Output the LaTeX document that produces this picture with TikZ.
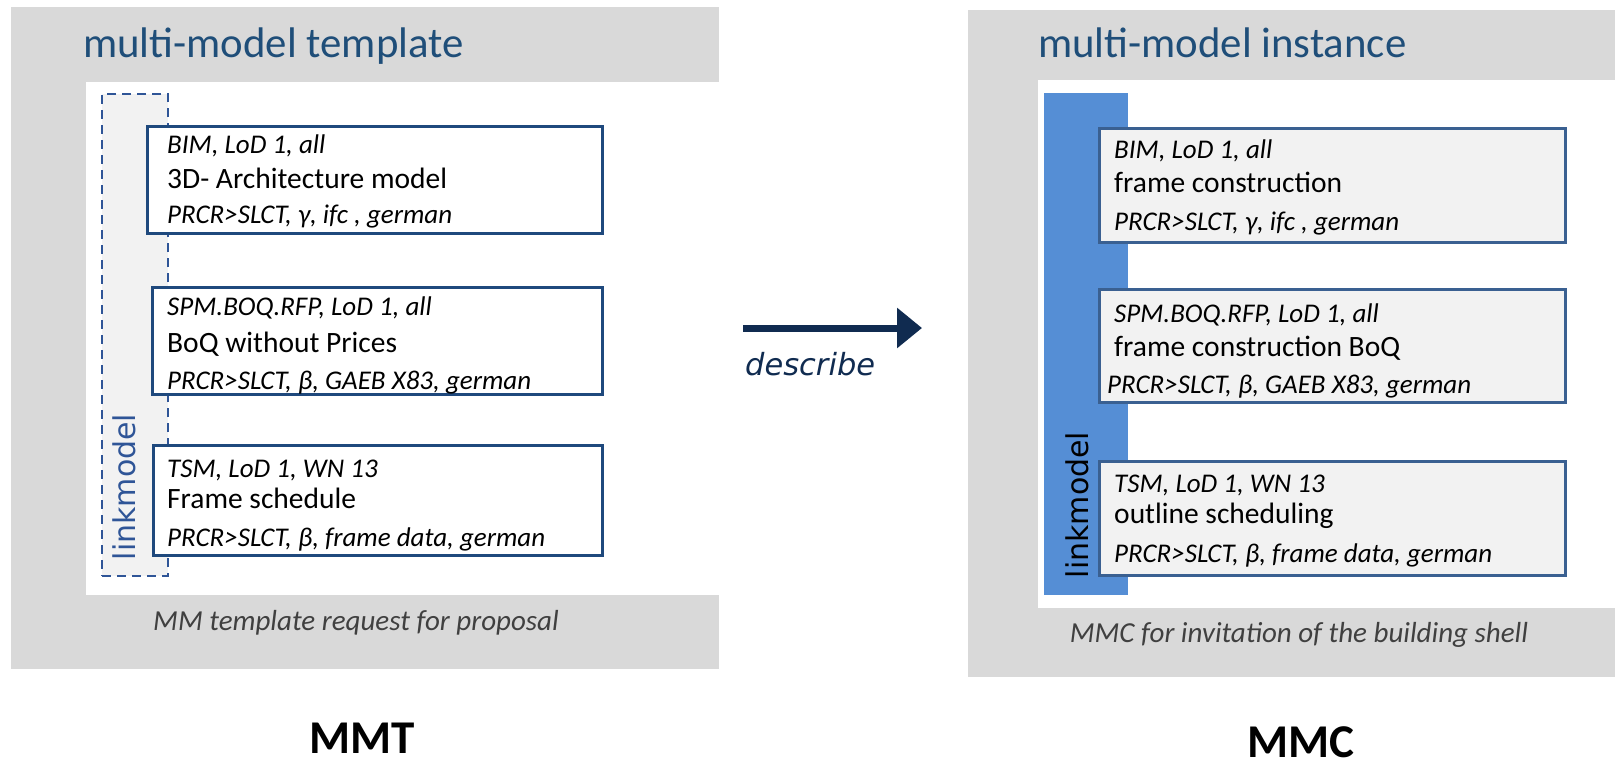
\documentclass[tikz,border=0pt]{standalone}
\usepackage{fontspec}
\setmainfont{Carlito}
\newfontfamily\verdanalike{DejaVu Sans}
\usetikzlibrary{arrows.meta}
\definecolor{panelgray}{RGB}{217,217,217}
\definecolor{titleblue}{RGB}{31,78,121}
\definecolor{boxblue}{RGB}{31,73,125}
\definecolor{boxsteel}{RGB}{58,96,145}
\definecolor{boxfill}{RGB}{242,242,242}
\definecolor{barblue}{RGB}{85,142,213}
\definecolor{linkblue}{RGB}{47,85,151}
\definecolor{capgray}{RGB}{64,64,64}
\definecolor{navy}{RGB}{16,43,80}

\begin{document}
\begin{tikzpicture}[x=1pt,y=-1pt]
\tikzstyle{tbox}=[rectangle, draw=boxblue, fill=white, line width=3pt, inner sep=0pt]
\tikzstyle{ibox}=[rectangle, draw=boxsteel, fill=boxfill, line width=3pt, inner sep=0pt]
\tikzstyle{meta}=[anchor=base west, inner sep=0pt, font=\fontsize{27}{32}\selectfont\itshape]
\tikzstyle{mname}=[anchor=base west, inner sep=0pt, font=\fontsize{29.5}{35}\selectfont]
\tikzstyle{ptitle}=[anchor=base west, inner sep=0pt, text=titleblue, font=\fontsize{42.8}{50}\selectfont]
\tikzstyle{pcap}=[anchor=base, inner sep=0pt, text=capgray, font=\fontsize{29}{34}\selectfont\itshape]
\tikzstyle{pname}=[anchor=base, inner sep=0pt, font=\fontsize{47}{56}\selectfont\bfseries]
\tikzstyle{lmodel}=[rotate=90, anchor=base, inner sep=0pt, font=\verdanalike\fontsize{30}{36}\selectfont]

\useasboundingbox (0,0) rectangle (1615,766);

% template (left)
\fill[panelgray] (11,7) rectangle (719,669);
\fill[white] (86,82) rectangle (719,595);
\node[ptitle] (t1) at (83,57) {multi-model template};

\node[rectangle, draw=linkblue, fill=boxfill, line width=2.5pt,
    dash pattern=on 9pt off 6pt, minimum width=66pt,
    minimum height=482pt, inner sep=0pt] (lk1) at (135,335) {};
\node[lmodel, text=linkblue] (lt1) at (135,487) {linkmodel};

\node[tbox, minimum width=455pt, minimum height=107pt] (b1) at (375,180) {};
\node[meta] (b1a) at (167,153) {BIM, LoD 1, all};
\node[mname] (b1b) at (167,188) {3D- Architecture model};
\node[meta] (b1c) at (167,223) {PRCR>SLCT, γ, ifc , german};

\node[tbox, minimum width=450pt, minimum height=107pt] (b2) at (377.5,341) {};
\node[meta] (b2a) at (167,315) {SPM.BOQ.RFP, LoD 1, all};
\node[mname] (b2b) at (167,352) {BoQ without Prices};
\node[meta] (b2c) at (167,389) {PRCR>SLCT, β, GAEB X83, german};

\node[tbox, minimum width=449pt, minimum height=110pt] (b3) at (378,500.5) {};
\node[meta] (b3a) at (167,477) {TSM, LoD 1, WN 13};
\node[mname] (b3b) at (167,508) {Frame schedule};
\node[meta] (b3c) at (167,546) {PRCR>SLCT, β, frame data, german};

\node[pcap] (c1) at (356,630) {MM template request for proposal};
\node[pname] (n1) at (362,753) {MMT};

% arrow
\coordinate (as) at (743,328);
\coordinate (ae) at (922,328);
\draw[navy, line width=7pt, -{Triangle[length=25pt,width=39pt]}] (as) -- (ae);
\node[anchor=base west, inner sep=0pt, text=navy,
    font=\verdanalike\fontsize{30.5}{36}\selectfont\itshape] (d) at (745,375) {describe};

% instance (right)
\fill[panelgray] (968,10) rectangle (1615,677);
\fill[white] (1038,80) rectangle (1615,608);
\node[ptitle] (t2) at (1038,57) {multi-model instance};

\node[rectangle, fill=barblue, minimum width=84pt, minimum height=502pt,
    inner sep=0pt] (lk2) at (1086,344) {};
\node[lmodel, text=black] (lt2) at (1088,505) {linkmodel};

\node[ibox, minimum width=466pt, minimum height=114pt] (r1) at (1332.5,185.5) {};
\node[meta] (r1a) at (1114,158) {BIM, LoD 1, all};
\node[mname] (r1b) at (1114,192) {frame construction};
\node[meta] (r1c) at (1114,230) {PRCR>SLCT, γ, ifc , german};

\node[ibox, minimum width=466pt, minimum height=113pt] (r2) at (1332.5,346) {};
\node[meta] (r2a) at (1114,322) {SPM.BOQ.RFP, LoD 1, all};
\node[mname] (r2b) at (1114,356) {frame construction BoQ};
\node[meta] (r2c) at (1107,393) {PRCR>SLCT, β, GAEB X83, german};

\node[ibox, minimum width=466pt, minimum height=114pt] (r3) at (1332.5,518.5) {};
\node[meta] (r3a) at (1114,492) {TSM, LoD 1, WN 13};
\node[mname] (r3b) at (1114,523) {outline scheduling};
\node[meta] (r3c) at (1114,562) {PRCR>SLCT, β, frame data, german};

\node[pcap] (c2) at (1299,642) {MMC for invitation of the building shell};
\node[pname] (n2) at (1301,757) {MMC};
\end{tikzpicture}
\end{document}
